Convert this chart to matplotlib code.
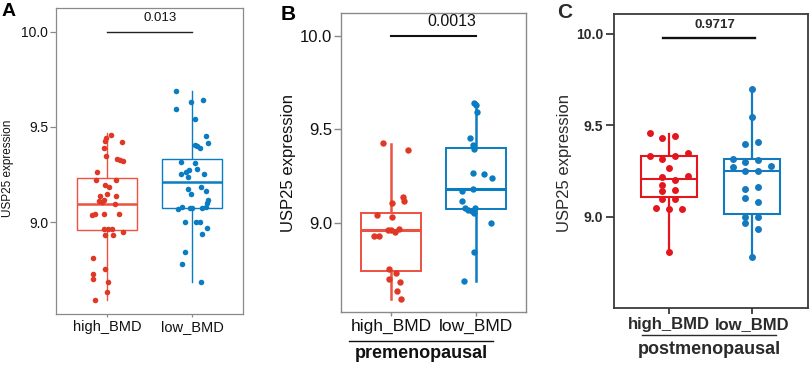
import matplotlib
matplotlib.use("Agg")
import matplotlib.pyplot as plt

plt.rcParams['font.family'] = ['Liberation Sans', 'DejaVu Sans']

W, H = 809, 365

groups = ["high_BMD", "low_BMD"]

# panel A: all samples
a_high = [9.458, 9.440, 9.428, 9.423, 9.388, 9.349, 9.332, 9.326, 9.319, 9.265,
          9.221, 9.221, 9.195, 9.183, 9.147, 9.137, 9.139, 9.116, 9.112, 9.104,
          9.095, 9.040, 9.037, 9.040, 9.042, 8.961, 8.961, 8.961, 8.932, 8.932,
          8.947, 8.809, 8.726, 8.698, 8.751, 8.686, 8.633, 8.590]
a_high_jit = [0.047, -0.016, -0.024, 0.17, -0.035, -0.016, 0.12, 0.15, 0.19, -0.12,
              -0.13, 0.11, -0.024, 0.02, 0.0, -0.08, 0.11, -0.04, -0.09, -0.06,
              0.09, -0.14, -0.18, -0.04, 0.145, -0.035, 0.005, 0.06, -0.03, 0.07,
              0.19, -0.16, -0.17, -0.16, -0.02, 0.005, 0.0, -0.14]
a_low = [9.691, 9.633, 9.642, 9.595, 9.542, 9.453, 9.418, 9.405, 9.398, 9.391,
         9.317, 9.312, 9.274, 9.265, 9.277, 9.251, 9.239, 9.251, 9.172, 9.183,
         9.163, 9.147, 9.116, 9.102, 9.067, 9.081, 9.075, 9.075, 9.075, 9.081,
         9.002, 9.002, 9.002, 8.967, 8.935, 8.840, 8.779, 8.686]
a_low_jit = [-0.19, -0.015, 0.126, -0.19, 0.035, 0.165, 0.18, 0.035, 0.055, 0.086,
             -0.13, 0.035, -0.04, -0.07, 0.055, -0.13, -0.05, 0.14, -0.055, 0.10,
             0.165, -0.02, 0.19, 0.17, -0.17, -0.12, -0.03, 0.0, 0.11, 0.165,
             -0.08, 0.047, 0.086, 0.17, 0.11, -0.08, -0.12, 0.10]
# q1, median, q3, whisker low, whisker high
a_box = [[8.956, 9.095, 9.233, 8.590, 9.466],
         [9.073, 9.210, 9.333, 8.686, 9.691]]
a_p = "0.013"

# panel B: premenopausal
b_high = [9.424, 9.389, 9.139, 9.118, 9.107, 9.040, 9.032, 8.931, 8.931, 8.961,
          8.961, 8.952, 8.965, 8.751, 8.729, 8.699, 8.684, 8.635, 8.590]
b_high_jit = [-0.10, 0.20, 0.145, 0.15, 0.01, -0.16, 0.01, -0.20, -0.14, -0.04,
              0.0, 0.05, 0.09, -0.02, 0.06, -0.03, 0.11, 0.075, 0.12]
b_low = [9.642, 9.629, 9.594, 9.451, 9.416, 9.392, 9.267, 9.260, 9.237, 9.171,
         9.182, 9.116, 9.077, 9.068, 9.063, 9.053, 9.077, 9.000, 8.842, 8.689]
b_low_jit = [-0.02, 0.0, 0.01, -0.07, -0.03, -0.025, -0.03, 0.10, 0.19, -0.16,
             -0.03, -0.16, -0.13, -0.09, -0.05, -0.025, -0.01, 0.18, -0.025, -0.14]
b_box = [[8.743, 8.961, 9.053, 8.590, 9.421],
         [9.071, 9.178, 9.398, 8.690, 9.638]]
b_p = "0.0013"

# panel C: postmenopausal
c_high = [9.459, 9.432, 9.441, 9.330, 9.317, 9.330, 9.350, 9.266, 9.219, 9.199,
          9.222, 9.175, 9.148, 9.139, 9.095, 9.095, 9.046, 9.040, 9.040, 8.807]
c_high_jit = [-0.234, -0.081, 0.077, -0.234, -0.081, 0.077, 0.23, 0.0, -0.081, 0.077,
              0.23, -0.081, 0.077, -0.081, -0.081, 0.077, -0.157, 0.0, 0.153, 0.0]
c_low = [9.696, 9.543, 9.397, 9.408, 9.317, 9.301, 9.310, 9.273, 9.251, 9.251,
         9.277, 9.150, 9.161, 9.102, 9.080, 9.000, 9.000, 8.964, 8.931, 8.778]
c_low_jit = [0.0, 0.0, -0.077, 0.08, -0.23, -0.077, 0.08, -0.23, -0.077, 0.08,
             0.234, -0.077, 0.08, -0.077, 0.08, -0.077, 0.08, -0.077, 0.08, 0.0]
c_box = [[9.106, 9.206, 9.330, 8.807, 9.452],
         [9.013, 9.251, 9.317, 8.778, 9.696]]
c_p = "0.9717"

yticks = [9.0, 9.5, 10.0]


def px_axes(fig, l, t, r, b):
    return fig.add_axes([l / W, 1 - b / H, (r - l) / W, (b - t) / H])


def draw_panel(ax, box, pts, jits, line_colors, dot_colors, ylim, xlim, st):
    stats = []
    for q1, med, q3, lo, hi in box:
        stats.append(dict(q1=q1, med=med, q3=q3, whislo=lo, whishi=hi, fliers=[]))
    bp = ax.bxp(stats, positions=[1, 2], widths=st["bw"], showcaps=False,
                patch_artist=True, manage_ticks=False)
    for i, c in enumerate(line_colors):
        bp["boxes"][i].set(facecolor="white", edgecolor=c, linewidth=st["lw"], zorder=2)
        bp["medians"][i].set(color=c, linewidth=st["mlw"], zorder=2)
        for w in bp["whiskers"][2 * i:2 * i + 2]:
            w.set(color=c, linewidth=st["wlw"], zorder=1)
    for i, (vals, jit) in enumerate(zip(pts, jits)):
        xs = [i + 1 + j for j in jit]
        ax.plot(xs, vals, "o", color=dot_colors[i], ms=st["ms"], mew=0, zorder=3)

    ax.set_xlim(*xlim)
    ax.set_ylim(*ylim)
    ax.set_yticks(yticks)
    ax.set_yticklabels(["%.1f" % v for v in yticks], fontsize=st["yfs"],
                       fontweight=st["weight"], color=st["tc"])
    ax.set_xticks([1, 2])
    ax.set_xticklabels(groups, fontsize=st["xfs"], fontweight=st["xweight"], color=st["tc"])
    ax.tick_params(axis="y", length=st["ytl"], width=st["fw"], color=st["fc"], pad=st["ypad"])
    ax.tick_params(axis="x", length=st["xtl"], width=st["fw"], color=st["fc"], pad=st["xpad"])
    for s in ax.spines.values():
        s.set_color(st["fc"])
        s.set_linewidth(st["fw"])


fig = plt.figure(figsize=(W / 100, H / 100), dpi=100)

red_line = "#EC5141"
red_dot = "#DF3826"
blue_ab = "#0A7DC2"
red_c = "#E2161C"
blue_c = "#1479BE"

# ---- A
st_a = dict(bw=0.7, lw=1.0, mlw=1.8, wlw=1.0, ms=4.0, yfs=10, xfs=10.5, weight="normal",
            xweight="normal", tc="#111111", fc="#8a8a8a", fw=0.9, ytl=4, xtl=2.5,
            ypad=1.5, xpad=2)
ax_a = px_axes(fig, 56, 8, 243.3, 314)
draw_panel(ax_a, a_box, [a_high, a_low], [a_high_jit, a_low_jit], [red_line, blue_ab],
           [red_dot, blue_ab], (8.516, 10.126), (0.4, 2.6), st_a)
ax_a.plot([1, 2], [10.0, 10.0], color="#222222", lw=1.0)
ax_a.text(1.62, 10.072, a_p, ha="center", va="center", fontsize=9.5, color="#111111")
fig.text(8 / W, 1 - 168 / H, "USP25 expression", rotation=90, ha="center", va="center",
         fontsize=8.5, color="#111111")
fig.text(9 / W, 1 - 12 / H, "A", ha="center", va="center", fontsize=14, fontweight="bold")

# ---- B
st_b = dict(bw=0.7, lw=1.4, mlw=2.2, wlw=1.8, ms=4.6, yfs=12, xfs=12.5, weight="normal",
            xweight="normal", tc="#111111", fc="#8a8a8a", fw=1.0, ytl=5, xtl=3,
            ypad=1.5, xpad=2)
ax_b = px_axes(fig, 341, 13.3, 526, 312.3)
draw_panel(ax_b, b_box, [b_high, b_low], [b_high_jit, b_low_jit], [red_line, blue_ab],
           [red_dot, blue_ab], (8.521, 10.120), (0.41, 2.59), st_b)
ax_b.plot([1, 2], [10.0, 10.0], color="#111111", lw=1.5)
ax_b.text(1.72, 10.075, b_p, ha="center", va="center", fontsize=11.5, color="#111111")
ax_b.plot([0.043, 0.822], [-0.096, -0.096], transform=ax_b.transAxes, color="#111111",
          lw=1.0, clip_on=False)
ax_b.text(0.432, -0.139, "premenopausal", transform=ax_b.transAxes, ha="center",
          va="center", fontsize=13, fontweight="bold", color="#111111")
fig.text(289 / W, 1 - 163 / H, "USP25 expression", rotation=90, ha="center", va="center",
         fontsize=12, color="#111111")
fig.text(288 / W, 1 - 14 / H, "B", ha="center", va="center", fontsize=15, fontweight="bold")

# ---- C
st_c = dict(bw=0.68, lw=1.5, mlw=1.5, wlw=1.6, ms=5.0, yfs=10, xfs=12, weight="bold",
            xweight="bold", tc="#2a2a2a", fc="#3a3a3a", fw=1.3, ytl=6, xtl=4.5,
            ypad=1.5, xpad=2)
ax_c = px_axes(fig, 613.7, 14.3, 808, 307.7)
draw_panel(ax_c, c_box, [c_high, c_low], [c_high_jit, c_low_jit], [red_c, blue_c],
           [red_c, blue_c], (8.503, 10.106), (0.331, 2.68), st_c)
ax_c.plot([0.924, 2.04], [9.978, 9.978], color="#111111", lw=1.7)
ax_c.text(1.555, 10.048, c_p, ha="center", va="center", fontsize=9.5, fontweight="bold",
          color="#2a2a2a")
ax_c.plot([0.146, 0.837], [-0.093, -0.093], transform=ax_c.transAxes, color="#2a2a2a",
          lw=1.0, clip_on=False)
ax_c.text(0.491, -0.141, "postmenopausal", transform=ax_c.transAxes, ha="center",
          va="center", fontsize=13, fontweight="bold", color="#2a2a2a")
fig.text(564 / W, 1 - 163 / H, "USP25 expression", rotation=90, ha="center", va="center",
         fontsize=12, color="#2a2a2a")
fig.text(565 / W, 1 - 12 / H, "C", ha="center", va="center", fontsize=15, fontweight="bold",
         color="#2a2a2a")

fig.savefig("out.png", dpi=100)
